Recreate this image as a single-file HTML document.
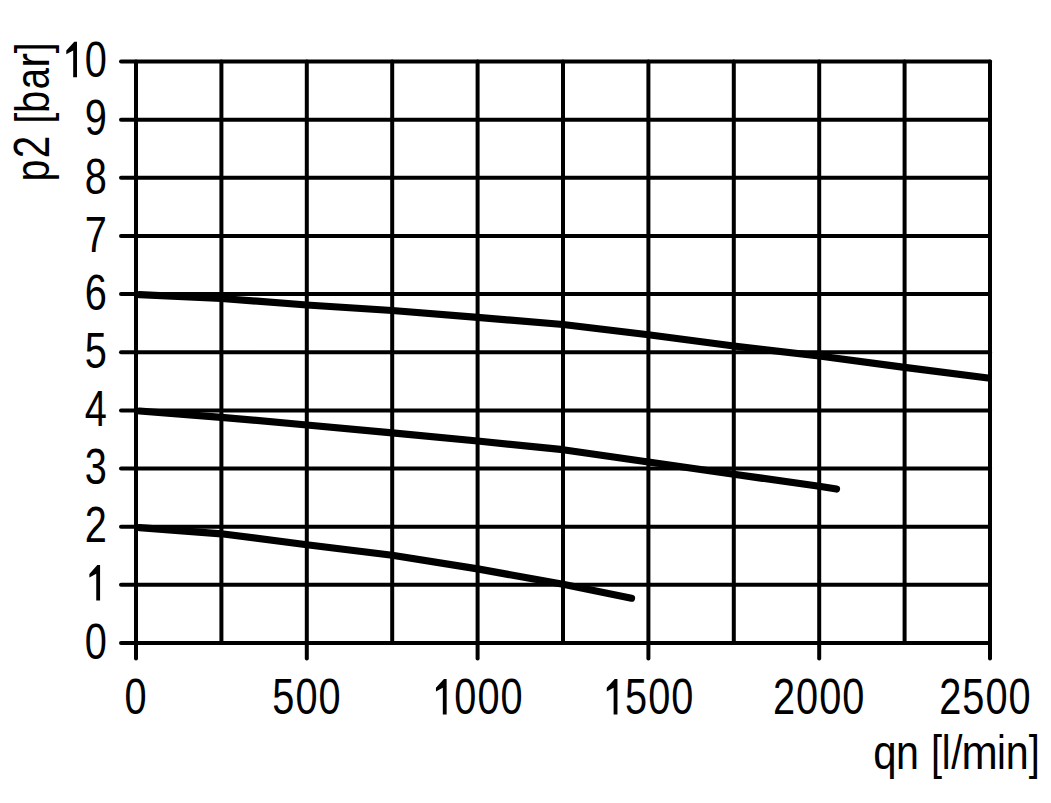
<!DOCTYPE html>
<html><head><meta charset="utf-8"><style>
html,body{margin:0;padding:0;background:#fff;}
svg{display:block;}
text{font-family:"Liberation Sans",sans-serif;fill:#000;}
text.d{font-size:50.3px;}
</style></head><body>
<svg width="1051" height="803" viewBox="0 0 1051 803">
<rect width="1051" height="803" fill="#fff"/>
<g stroke="#000" stroke-width="4" stroke-linecap="round">
<line x1="136.0" y1="61.5" x2="136.0" y2="658.5"/>
<line x1="221.4" y1="61.5" x2="221.4" y2="643"/>
<line x1="306.8" y1="61.5" x2="306.8" y2="658.5"/>
<line x1="392.2" y1="61.5" x2="392.2" y2="643"/>
<line x1="477.6" y1="61.5" x2="477.6" y2="658.5"/>
<line x1="563.0" y1="61.5" x2="563.0" y2="643"/>
<line x1="648.4" y1="61.5" x2="648.4" y2="658.5"/>
<line x1="733.8" y1="61.5" x2="733.8" y2="643"/>
<line x1="819.2" y1="61.5" x2="819.2" y2="658.5"/>
<line x1="904.6" y1="61.5" x2="904.6" y2="643"/>
<line x1="990.0" y1="61.5" x2="990.0" y2="658.5"/>
<line x1="121" y1="643.00" x2="990" y2="643.00"/>
<line x1="121" y1="584.85" x2="990" y2="584.85"/>
<line x1="121" y1="526.70" x2="990" y2="526.70"/>
<line x1="121" y1="468.55" x2="990" y2="468.55"/>
<line x1="121" y1="410.40" x2="990" y2="410.40"/>
<line x1="121" y1="352.25" x2="990" y2="352.25"/>
<line x1="121" y1="294.10" x2="990" y2="294.10"/>
<line x1="121" y1="235.95" x2="990" y2="235.95"/>
<line x1="121" y1="177.80" x2="990" y2="177.80"/>
<line x1="121" y1="119.65" x2="990" y2="119.65"/>
<line x1="121" y1="61.50" x2="990" y2="61.50"/>
</g>
<g fill="none" stroke="#000" stroke-width="7.2" stroke-linecap="round" stroke-linejoin="round">
<polyline points="139.5,294.7 221.4,298.5 306.8,305.0 392.2,310.5 477.6,317.4 563.0,324.5 648.4,334.7 733.8,346.0 819.2,356.0 904.6,367.4 988.0,378.0"/>
<polyline points="139.5,411.0 221.4,417.3 306.8,425.0 392.2,432.8 477.6,441.0 563.0,449.7 648.4,462.0 733.8,474.3 819.2,486.2 836.5,489.0"/>
<polyline points="139.5,527.6 221.4,533.8 306.8,544.7 392.2,555.2 477.6,568.9 563.0,584.3 631.5,598.2"/>
</g>
<g fill="#000">
<text class="d" transform="translate(84.67,658.70) scale(0.79,1)">0</text>
<path transform="translate(84.67,600.55) scale(0.019403,-0.024561)" d="M794,0 L597,0 L597,1090 L243,934 L243,1085 L653,1446 L794,1446 Z"/>
<text class="d" transform="translate(84.67,542.40) scale(0.79,1)">2</text>
<text class="d" transform="translate(84.67,484.25) scale(0.79,1)">3</text>
<text class="d" transform="translate(84.67,426.10) scale(0.79,1)">4</text>
<text class="d" transform="translate(84.67,367.95) scale(0.79,1)">5</text>
<text class="d" transform="translate(84.67,309.80) scale(0.79,1)">6</text>
<text class="d" transform="translate(84.67,251.65) scale(0.79,1)">7</text>
<text class="d" transform="translate(84.67,193.50) scale(0.79,1)">8</text>
<text class="d" transform="translate(84.67,135.35) scale(0.79,1)">9</text>
<path transform="translate(61.60,77.20) scale(0.019403,-0.024561)" d="M794,0 L597,0 L597,1090 L243,934 L243,1085 L653,1446 L794,1446 Z"/>
<text class="d" transform="translate(84.67,77.20) scale(0.79,1)">0</text>
<text class="d" transform="translate(124.45,714.40) scale(0.79,1)">0</text>
<text class="d" transform="translate(272.31,714.40) scale(0.79,1)">5</text>
<text class="d" transform="translate(295.38,714.40) scale(0.79,1)">0</text>
<text class="d" transform="translate(318.45,714.40) scale(0.79,1)">0</text>
<path transform="translate(431.24,714.40) scale(0.019403,-0.024561)" d="M794,0 L597,0 L597,1090 L243,934 L243,1085 L653,1446 L794,1446 Z"/>
<text class="d" transform="translate(454.31,714.40) scale(0.79,1)">0</text>
<text class="d" transform="translate(477.38,714.40) scale(0.79,1)">0</text>
<text class="d" transform="translate(500.45,714.40) scale(0.79,1)">0</text>
<path transform="translate(602.04,714.40) scale(0.019403,-0.024561)" d="M794,0 L597,0 L597,1090 L243,934 L243,1085 L653,1446 L794,1446 Z"/>
<text class="d" transform="translate(625.11,714.40) scale(0.79,1)">5</text>
<text class="d" transform="translate(648.18,714.40) scale(0.79,1)">0</text>
<text class="d" transform="translate(671.25,714.40) scale(0.79,1)">0</text>
<text class="d" transform="translate(773.04,714.40) scale(0.79,1)">2</text>
<text class="d" transform="translate(796.11,714.40) scale(0.79,1)">0</text>
<text class="d" transform="translate(819.18,714.40) scale(0.79,1)">0</text>
<text class="d" transform="translate(842.25,714.40) scale(0.79,1)">0</text>
<text class="d" transform="translate(939.24,714.40) scale(0.79,1)">2</text>
<text class="d" transform="translate(962.31,714.40) scale(0.79,1)">5</text>
<text class="d" transform="translate(985.38,714.40) scale(0.79,1)">0</text>
<text class="d" transform="translate(1008.45,714.40) scale(0.79,1)">0</text>
<text style="font-size:48.5px" transform="translate(873.34,768.60) scale(0.8656,1)">q</text>
<text style="font-size:48.5px" transform="translate(895.96,768.60) scale(0.8494,1)">n</text>
<text style="font-size:48.5px" transform="translate(931.06,768.60) scale(0.8200,1)">[</text>
<text style="font-size:48.5px" transform="translate(941.82,768.60) scale(0.8200,1)">l</text>
<text style="font-size:48.5px" transform="translate(951.30,768.60) scale(0.8312,1)">/</text>
<text style="font-size:48.5px" transform="translate(961.61,768.60) scale(0.8975,1)">m</text>
<text style="font-size:48.5px" transform="translate(997.09,768.60) scale(0.8200,1)">i</text>
<text style="font-size:48.5px" transform="translate(1005.76,768.60) scale(0.8494,1)">n</text>
<text style="font-size:48.5px" transform="translate(1028.74,768.60) scale(0.8200,1)">]</text>
<text style="font-size:47.8px" transform="translate(49.00,181.19) rotate(-90) scale(0.8095,1)">p</text>
<text style="font-size:50.5px" transform="translate(49.00,158.33) rotate(-90) scale(0.7998,1)">2</text>
<text style="font-size:47.8px" transform="translate(49.00,123.57) rotate(-90) scale(0.8180,1)">[</text>
<text style="font-size:47.8px" transform="translate(49.00,112.98) rotate(-90) scale(0.8374,1)">b</text>
<text style="font-size:47.8px" transform="translate(49.00,89.22) rotate(-90) scale(0.7983,1)">a</text>
<text style="font-size:47.8px" transform="translate(49.00,67.85) rotate(-90) scale(0.9289,1)">r</text>
<text style="font-size:47.8px" transform="translate(49.00,53.19) rotate(-90) scale(0.8180,1)">]</text>
</g>
</svg>
</body></html>
